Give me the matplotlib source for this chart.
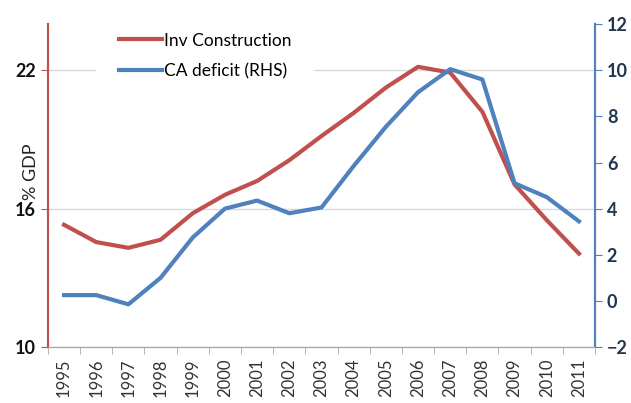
from matplotlib import pyplot as plt
import numpy as np

plt.rcParams['font.family'] = ['Lato', 'DejaVu Sans']

years = [str(y) for y in range(1995, 2012)]
inv_construction = [15.3, 14.55, 14.3, 14.65, 15.8, 16.6, 17.2, 18.1, 19.15,
                    20.15, 21.25, 22.15, 21.9, 20.2, 17.05, 15.5, 14.05]
ca_deficit = [0.25, 0.25, -0.15, 1.0, 2.75, 4.0, 4.35, 3.8, 4.05,
              5.85, 7.55, 9.05, 10.05, 9.6, 5.1, 4.5, 3.45]

red = '#c0504d'
blue = '#4f81bd'

fig = plt.figure(figsize=(6.31, 4.03), dpi=100)
ax1 = fig.add_axes([0.076, 0.139, 0.867, 0.801])
ax2 = ax1.twinx()

x = np.arange(len(years))
l1, = ax1.plot(x, inv_construction, color=red, lw=3, label='Inv Construction', zorder=3)
l2, = ax2.plot(x, ca_deficit, color=blue, lw=3, label='CA deficit (RHS)', zorder=3)

ax1.set_xlim(-0.5, len(years) - 0.5)
ax1.set_ylim(10, 24)
ax2.set_ylim(-2, 12)
ax1.set_yticks([10, 16, 22])
ax2.set_yticks(range(-2, 13, 2))

ax1.set_xticks(x)
ax1.set_xticklabels(years, rotation=90, fontsize=12, color='#333333')
ax1.set_xticks(np.arange(-0.5, len(years), 1), minor=True)
ax1.tick_params(axis='x', which='major', length=0, pad=8)
ax1.tick_params(axis='x', which='minor', length=5, color='#a6a6a6')

ax1.tick_params(axis='y', colors=red, length=5, labelsize=13)
for t in ax1.get_yticklabels():
    t.set_color('#111111')
    t.set_fontweight('bold')
ax2.tick_params(axis='y', colors=blue, length=5, labelsize=13)
for t in ax2.get_yticklabels():
    t.set_color('#1f3550')
    t.set_fontweight('bold')

ax1.grid(axis='y', color='#d9d9d9', lw=1)
ax1.set_axisbelow(True)

for a in (ax1, ax2):
    a.spines['top'].set_visible(False)
    a.spines['bottom'].set_color('#a6a6a6')
    a.spines['left'].set_color(red)
    a.spines['right'].set_color(blue)
    a.spines['left'].set_linewidth(1.5)
    a.spines['right'].set_linewidth(1.5)

fig.text(31 / 631, 1 - 172 / 403, '% GDP', rotation=90, fontsize=13,
         color='#222222', ha='center', va='center')

leg = ax2.legend(handles=[l1, l2], loc='upper left',
                 bbox_to_anchor=(96 / 631, 1 - 10 / 403),
                 bbox_transform=fig.transFigure,
                 fontsize=12.5, frameon=True, fancybox=False, handlelength=2.5,
                 handletextpad=0.1, labelspacing=0.85, borderpad=1.3,
                 borderaxespad=0)
leg.get_frame().set_facecolor('white')
leg.get_frame().set_edgecolor('none')
leg.get_frame().set_alpha(1)

plt.savefig('out.png', dpi=100)
